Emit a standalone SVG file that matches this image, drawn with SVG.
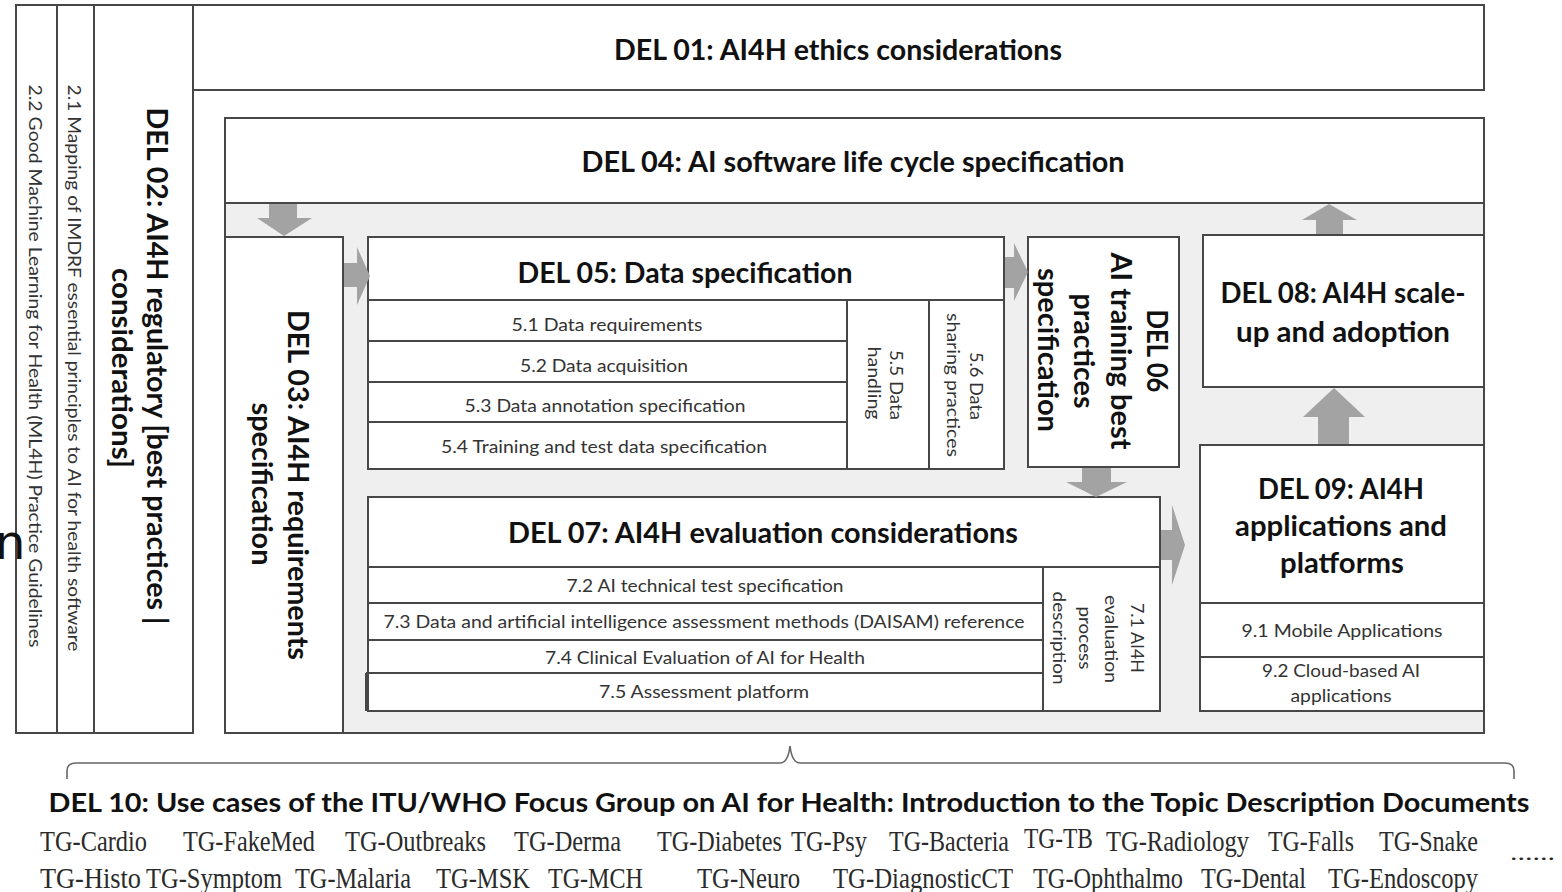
<svg xmlns="http://www.w3.org/2000/svg" width="1562" height="892" viewBox="0 0 1562 892">
<style>
.box{fill:#fff;stroke:#474747;stroke-width:2}
.bg{fill:#efefef;stroke:#474747;stroke-width:2}
.ln{stroke:#474747;stroke-width:2;fill:none}
.h{font-family:Lato,'Open Sans',sans-serif;font-weight:700;font-size:28px;fill:#111;text-anchor:middle}
.s{font-family:Lato,'Open Sans',sans-serif;font-size:18px;fill:#333;text-anchor:middle}
.tg{font-family:'Liberation Serif','Times New Roman',serif;font-size:29px;fill:#2a2a2a}
.arr{fill:#a3a3a3}
.brace{fill:none;stroke:#666;stroke-width:1.6}
</style>
<rect width="1562" height="892" fill="#fff"/>

<g id="del02">
<rect class="box" x="16" y="5" width="177" height="728"/>
<line class="ln" x1="57" y1="5" x2="57" y2="733"/>
<line class="ln" x1="94" y1="5" x2="94" y2="733"/>
<text class="s" transform="translate(29,366) rotate(90)" textLength="563" lengthAdjust="spacingAndGlyphs">2.2 Good Machine Learning for Health (ML4H) Practice Guidelines</text>
<text class="s" transform="translate(68,368) rotate(90)" textLength="567" lengthAdjust="spacingAndGlyphs">2.1 Mapping of IMDRF essential principles to AI for health software</text>
<text class="h" transform="translate(147,366) rotate(90)" textLength="517" lengthAdjust="spacingAndGlyphs">DEL 02: AI4H regulatory [best practices |</text>
<text class="h" transform="translate(112,368) rotate(90)" textLength="200" lengthAdjust="spacingAndGlyphs">considerations]</text>
</g>

<g id="del01">
<rect class="box" x="193" y="5" width="1291" height="85"/>
<text class="h" x="838" y="60" textLength="448" lengthAdjust="spacingAndGlyphs">DEL 01: AI4H ethics considerations</text>
</g>

<g id="del04">
<rect class="bg" x="225" y="118" width="1259" height="615"/>
<rect class="box" x="225" y="118" width="1259" height="85"/>
<text class="h" x="853" y="172" textLength="543" lengthAdjust="spacingAndGlyphs">DEL 04: AI software life cycle specification</text>
</g>

<g id="del03">
<rect class="box" x="225" y="237" width="118" height="496"/>
<text class="h" transform="translate(288,485) rotate(90)" textLength="350" lengthAdjust="spacingAndGlyphs">DEL 03: AI4H requirements</text>
<text class="h" transform="translate(252,484) rotate(90)" textLength="163" lengthAdjust="spacingAndGlyphs">specification</text>
</g>

<g id="del05">
<rect class="box" x="368" y="237" width="636" height="232"/>
<line class="ln" x1="368" y1="300" x2="1004" y2="300"/>
<line class="ln" x1="368" y1="341" x2="847" y2="341"/>
<line class="ln" x1="368" y1="382" x2="847" y2="382"/>
<line class="ln" x1="368" y1="422" x2="847" y2="422"/>
<line class="ln" x1="847" y1="300" x2="847" y2="469"/>
<line class="ln" x1="929" y1="300" x2="929" y2="469"/>
<text class="h" x="685" y="283" textLength="335" lengthAdjust="spacingAndGlyphs">DEL 05: Data specification</text>
<text class="s" x="607" y="331" textLength="191" lengthAdjust="spacingAndGlyphs">5.1 Data requirements</text>
<text class="s" x="604" y="372" textLength="168" lengthAdjust="spacingAndGlyphs">5.2 Data acquisition</text>
<text class="s" x="605" y="412" textLength="281" lengthAdjust="spacingAndGlyphs">5.3 Data annotation specification</text>
<text class="s" x="604" y="453" textLength="326" lengthAdjust="spacingAndGlyphs">5.4 Training and test data specification</text>
<text class="s" transform="translate(890,385) rotate(90)" textLength="70" lengthAdjust="spacingAndGlyphs">5.5 Data</text>
<text class="s" transform="translate(868,383) rotate(90)" textLength="73" lengthAdjust="spacingAndGlyphs">handling</text>
<text class="s" transform="translate(970,386) rotate(90)" textLength="68" lengthAdjust="spacingAndGlyphs">5.6 Data</text>
<text class="s" transform="translate(947,385) rotate(90)" textLength="144" lengthAdjust="spacingAndGlyphs">sharing practices</text>
</g>

<g id="del06">
<rect class="box" x="1028" y="237" width="151" height="230"/>
<text class="h" transform="translate(1147,351) rotate(90)" textLength="83" lengthAdjust="spacingAndGlyphs">DEL 06</text>
<text class="h" transform="translate(1111,351) rotate(90)" textLength="197" lengthAdjust="spacingAndGlyphs">AI training best</text>
<text class="h" transform="translate(1074,351) rotate(90)" textLength="115" lengthAdjust="spacingAndGlyphs">practices</text>
<text class="h" transform="translate(1038,350) rotate(90)" textLength="164" lengthAdjust="spacingAndGlyphs">specification</text>
</g>

<g id="del08">
<rect class="box" x="1203" y="235" width="281" height="152"/>
<text class="h" x="1343" y="303" textLength="245" lengthAdjust="spacingAndGlyphs">DEL 08: AI4H scale-</text>
<text class="h" x="1343" y="342" textLength="214" lengthAdjust="spacingAndGlyphs">up and adoption</text>
</g>

<g id="del09">
<rect class="box" x="1200" y="445" width="284" height="266"/>
<line class="ln" x1="1200" y1="603" x2="1484" y2="603"/>
<line class="ln" x1="1200" y1="657" x2="1484" y2="657"/>
<text class="h" x="1341" y="499" textLength="166" lengthAdjust="spacingAndGlyphs">DEL 09: AI4H</text>
<text class="h" x="1341" y="536" textLength="212" lengthAdjust="spacingAndGlyphs">applications and</text>
<text class="h" x="1342" y="573" textLength="124" lengthAdjust="spacingAndGlyphs">platforms</text>
<text class="s" x="1342" y="637" textLength="201" lengthAdjust="spacingAndGlyphs">9.1 Mobile Applications</text>
<text class="s" x="1341" y="677" textLength="158" lengthAdjust="spacingAndGlyphs">9.2 Cloud-based AI</text>
<text class="s" x="1341" y="702" textLength="101" lengthAdjust="spacingAndGlyphs">applications</text>
</g>

<g id="del07">
<rect class="box" x="368" y="497" width="792" height="214"/>
<line class="ln" x1="368" y1="567" x2="1160" y2="567"/>
<line class="ln" x1="368" y1="603" x2="1043" y2="603"/>
<line class="ln" x1="368" y1="640" x2="1043" y2="640"/>
<line class="ln" x1="366" y1="673" x2="1043" y2="673"/>
<line class="ln" x1="366" y1="673" x2="366" y2="711"/>
<line class="ln" x1="1043" y1="567" x2="1043" y2="711"/>
<text class="h" x="763" y="543" textLength="510" lengthAdjust="spacingAndGlyphs">DEL 07: AI4H evaluation considerations</text>
<text class="s" x="705" y="592" textLength="277" lengthAdjust="spacingAndGlyphs">7.2 AI technical test specification</text>
<text class="s" x="704" y="628" textLength="641" lengthAdjust="spacingAndGlyphs">7.3 Data and artificial intelligence assessment methods (DAISAM) reference</text>
<text class="s" x="705" y="664" textLength="320" lengthAdjust="spacingAndGlyphs">7.4 Clinical Evaluation of AI for Health</text>
<text class="s" x="704" y="698" textLength="210" lengthAdjust="spacingAndGlyphs">7.5 Assessment platform</text>
<text class="s" transform="translate(1131,638) rotate(90)" textLength="70" lengthAdjust="spacingAndGlyphs">7.1 AI4H</text>
<text class="s" transform="translate(1105,639) rotate(90)" textLength="88" lengthAdjust="spacingAndGlyphs">evaluation</text>
<text class="s" transform="translate(1079,638) rotate(90)" textLength="63" lengthAdjust="spacingAndGlyphs">process</text>
<text class="s" transform="translate(1053,638) rotate(90)" textLength="93" lengthAdjust="spacingAndGlyphs">description</text>
</g>

<g id="connectors">
<path class="arr" d="M269,204 H297 V218 H312 L284,236 L257,218 H269 Z"/>
<path class="arr" d="M344,263 H357 V247 L370,276 L357,305 V287 H344 Z"/>
<path class="arr" d="M1005,257 H1014 V243 L1028,272 L1014,301 V288 H1005 Z"/>
<path class="arr" d="M1316,234 V220 H1302 L1329,204 L1357,220 H1343 V234 Z"/>
<path class="arr" d="M1318,444 V417 H1303 L1334,388 L1365,417 H1349 V444 Z"/>
<path class="arr" d="M1082,468 V482 H1066 L1096,497 L1127,482 H1111 V468 Z"/>
<path class="arr" d="M1161,530 H1172 V505 L1185,545 L1172,585 V560 H1161 Z"/>
</g>

<g id="del10">
<path class="brace" d="M67,779 V771 Q67,763 76,763 H780 Q788,763 790,746 Q792,763 800,763 H1505 Q1514,763 1514,771 V779"/>
<text class="h" x="789" y="812" style="font-size:27px" textLength="1481" lengthAdjust="spacingAndGlyphs">DEL 10: Use cases of the ITU/WHO Focus Group on AI for Health: Introduction to the Topic Description Documents</text>
<g class="tg">
<text x="40" y="851" textLength="107" lengthAdjust="spacingAndGlyphs">TG-Cardio</text>
<text x="183" y="851" textLength="132" lengthAdjust="spacingAndGlyphs">TG-FakeMed</text>
<text x="345" y="851" textLength="141" lengthAdjust="spacingAndGlyphs">TG-Outbreaks</text>
<text x="514" y="851" textLength="107" lengthAdjust="spacingAndGlyphs">TG-Derma</text>
<text x="657" y="851" textLength="125" lengthAdjust="spacingAndGlyphs">TG-Diabetes</text>
<text x="791" y="851" textLength="76" lengthAdjust="spacingAndGlyphs">TG-Psy</text>
<text x="889" y="851" textLength="120" lengthAdjust="spacingAndGlyphs">TG-Bacteria</text>
<text x="1024" y="848" textLength="69" lengthAdjust="spacingAndGlyphs">TG-TB</text>
<text x="1106" y="851" textLength="143" lengthAdjust="spacingAndGlyphs">TG-Radiology</text>
<text x="1268" y="851" textLength="86" lengthAdjust="spacingAndGlyphs">TG-Falls</text>
<text x="1379" y="851" textLength="99" lengthAdjust="spacingAndGlyphs">TG-Snake</text>
<text x="40" y="888" textLength="101" lengthAdjust="spacingAndGlyphs">TG-Histo</text>
<text x="146" y="888" textLength="136" lengthAdjust="spacingAndGlyphs">TG-Symptom</text>
<text x="295" y="888" textLength="116" lengthAdjust="spacingAndGlyphs">TG-Malaria</text>
<text x="436" y="888" textLength="94" lengthAdjust="spacingAndGlyphs">TG-MSK</text>
<text x="548" y="888" textLength="95" lengthAdjust="spacingAndGlyphs">TG-MCH</text>
<text x="697" y="888" textLength="103" lengthAdjust="spacingAndGlyphs">TG-Neuro</text>
<text x="833" y="888" textLength="180" lengthAdjust="spacingAndGlyphs">TG-DiagnosticCT</text>
<text x="1033" y="888" textLength="150" lengthAdjust="spacingAndGlyphs">TG-Ophthalmo</text>
<text x="1201" y="888" textLength="105" lengthAdjust="spacingAndGlyphs">TG-Dental</text>
<text x="1328" y="888" textLength="150" lengthAdjust="spacingAndGlyphs">TG-Endoscopy</text>
<text x="1510" y="860" style="font-size:20px" textLength="45" lengthAdjust="spacingAndGlyphs">......</text>
</g>
</g>

<text x="-5" y="559" style="font-family:'DejaVu Sans',sans-serif;font-size:48px;fill:#111">n</text>
</svg>
